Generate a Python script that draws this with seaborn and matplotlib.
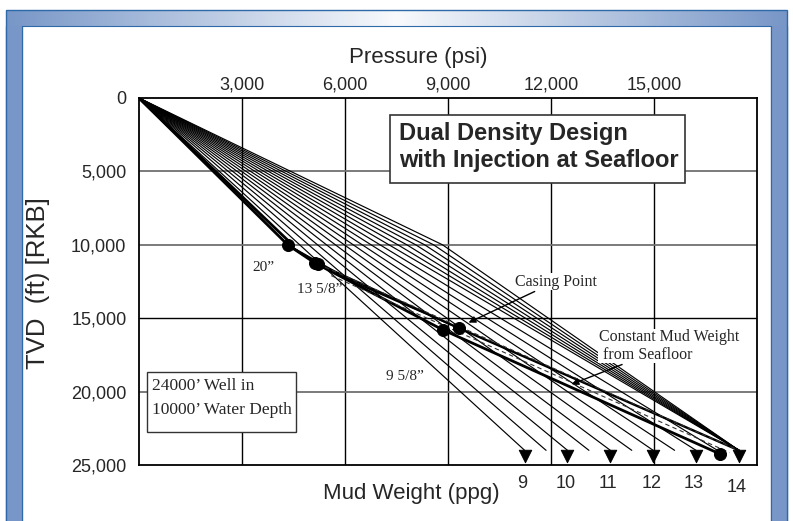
import numpy as np
import pandas as pd
import matplotlib
matplotlib.use("Agg")
import matplotlib.pyplot as plt
import seaborn as sns
from matplotlib.patches import Rectangle

sns.set_theme(style="white")
plt.rcParams['font.family'] = ['Liberation Sans', 'DejaVu Sans']

# ---------------- data ----------------
TD = 24000
mud_weights = [9, 9.5, 10, 10.5, 11, 11.5, 12, 12.5, 13, 13.5, 14]
riser_mw = [14.5, 15, 15.5, 16, 16.5, 17]      # heavier upper gradients, bent at seafloor
target_mw = 14
arrow_mw = [9, 10, 11, 12, 13, 14]
seawater_mw = 8.6
seafloor_depth = 10000

design_p = [0, 4330, 5130, 8855, 16924]
design_d = [0, 10000, 11250, 15800, 24250]
alt_p = [4330, 5210, 9321, 17470]
alt_d = [10000, 11310, 15680, 24000]
frac_p = [4330, 6300, 9321]
frac_d = [10000, 12600, 15680]
casing_p = [4330, 5130, 5210, 8855, 9321, 16924]
casing_d = [10000, 11250, 11310, 15800, 15680, 24250]
dash1_p = [5210, 17470]
dash1_d = [11310, 24000]
dash2_p = [5600, 17200]
dash2_d = [12100, 24150]

x_ticks = [3000, 6000, 9000, 12000, 15000]
y_ticks = [0, 5000, 10000, 15000, 20000, 25000]

W, H = 793, 521
fig = plt.figure(figsize=(W / 100, H / 100), dpi=100)

# ---------- decorative frame ----------
bg = fig.add_axes([0, 0, 1, 1])
bg.set_xlim(0, W)
bg.set_ylim(H, 0)
bg.axis('off')
blue = np.array([0.47, 0.59, 0.78])
grad = np.abs(np.linspace(-1, 1, 400))[None, :, None]
img = 1 - (1 - blue) * (0.05 + 0.95 * grad)
bg.imshow(np.repeat(img, 2, axis=0), extent=[6, 787, 26, 10], aspect='auto', zorder=1)
bg.add_patch(Rectangle((6, 26), 16, H, color=blue, zorder=1))
bg.add_patch(Rectangle((771, 26), 16, H, color=blue, zorder=1))
bg.add_patch(Rectangle((6, 10), 781, H, fill=False, ec='#2f6aa8', lw=1, zorder=2))
bg.add_patch(Rectangle((22, 26), 749, H, fill=False, ec='#2f6aa8', lw=0.8, zorder=2))

# ---------- main axes ----------
ax = fig.add_axes([139 / W, 1 - 465 / H, 618 / W, 367 / H])
ax.set_xlim(0, 18000)
ax.set_ylim(25000, 0)

for x in x_ticks:
    ax.axvline(x, color='black', lw=1, zorder=1)
for y in [5000, 10000, 20000]:
    ax.axhline(y, color='#707070', lw=1.3, zorder=1)
ax.axhline(15000, color='black', lw=1, zorder=1)

# constant mud weight lines from RKB
rows = []
for mw in mud_weights:
    for d in [0, TD]:
        rows.append({'line': mw, 'p': 0.052 * mw * d, 'd': d})
# heavier gradients to seafloor, converging on the target at TD
p_end = 0.052 * target_mw * TD
for mw in riser_mw:
    for p, d in [(0, 0), (0.052 * mw * seafloor_depth, seafloor_depth), (p_end, TD)]:
        rows.append({'line': mw, 'p': p, 'd': d})
fan = pd.DataFrame(rows)
sns.lineplot(data=fan, x='p', y='d', units='line', estimator=None, sort=False,
             color='black', lw=0.85, ax=ax, legend=False)

arr = pd.DataFrame({'p': [0.052 * m * TD for m in arrow_mw], 'd': [24420] * len(arrow_mw)})
sns.scatterplot(data=arr, x='p', y='d', marker='v', s=80, color='black',
                edgecolor='black', ax=ax, zorder=5, legend=False, clip_on=False)

# seawater to seafloor + design
sea = pd.DataFrame({'p': [0, 0.052 * seawater_mw * seafloor_depth], 'd': [0, seafloor_depth]})
sns.lineplot(data=sea, x='p', y='d', sort=False, color='black', lw=2, ax=ax)
sns.lineplot(data=pd.DataFrame({'p': design_p, 'd': design_d}), x='p', y='d',
             sort=False, color='black', lw=2, ax=ax)
sns.lineplot(data=pd.DataFrame({'p': alt_p, 'd': alt_d}), x='p', y='d',
             sort=False, color='black', lw=1.7, ax=ax)
sns.lineplot(data=pd.DataFrame({'p': frac_p, 'd': frac_d}), x='p', y='d',
             sort=False, color='black', lw=1.2, ax=ax)
for dp, dd in [(dash1_p, dash1_d), (dash2_p, dash2_d)]:
    sns.lineplot(data=pd.DataFrame({'p': dp, 'd': dd}), x='p', y='d',
                 sort=False, color='#333333', lw=0.8, ls=(0, (4, 3)), ax=ax)
sns.scatterplot(data=pd.DataFrame({'p': casing_p, 'd': casing_d}), x='p', y='d',
                s=75, color='black', edgecolor='black', ax=ax, zorder=6, legend=False)

# axes styling
ax.xaxis.tick_top()
ax.set_xticks(x_ticks)
ax.set_xticklabels([f'{v:,}' for v in x_ticks], fontsize=13)
ax.set_yticks(y_ticks)
ax.set_yticklabels([f'{v:,}' for v in y_ticks], fontsize=13)
ax.tick_params(axis='x', length=0, pad=3)
ax.tick_params(axis='y', length=0, pad=9)
ax.set_xlabel('')
ax.set_ylabel('')
for s in ax.spines.values():
    s.set_color('black')
    s.set_linewidth(1.3)
    s.set_zorder(7)

# axis titles
fig.text(418 / W, 1 - 58 / H, 'Pressure (psi)', fontsize=16, ha='center', va='center')
fig.text(38 / W, 1 - 283 / H, 'TVD  (ft) [RKB]', fontsize=18.5, ha='center', va='center', rotation=90)
fig.text(411 / W, 1 - 493 / H, 'Mud Weight (ppg)', fontsize=16, ha='center', va='center')
for m in arrow_mw:
    px = 139 + 0.052 * m * TD * 618 / 18000
    yy = 488 if m == 14 else 484
    fig.text((px - 2) / W, 1 - yy / H, str(m), fontsize=13, ha='center', va='center')

serif = ['Liberation Serif', 'DejaVu Serif']
# title box
x0, x1 = (390 - 139) / 618, (685 - 139) / 618
y0, y1 = (465 - 183) / 367, (465 - 115) / 367
ax.add_patch(Rectangle((x0, y0), x1 - x0, y1 - y0, transform=ax.transAxes,
                       fc='white', ec='#333333', lw=1.2, zorder=8))
ax.text((399 - 139) / 618, (465 - 147) / 367, 'Dual Density Design\nwith Injection at Seafloor',
        transform=ax.transAxes, fontsize=17, fontweight='bold', va='center', ha='left',
        linespacing=1.2, zorder=9)
# well box
bx0, bx1 = (147 - 139) / 618, (296 - 139) / 618
by0, by1 = (465 - 432) / 367, (465 - 372) / 367
ax.add_patch(Rectangle((bx0, by0), bx1 - bx0, by1 - by0, transform=ax.transAxes,
                       fc='white', ec='#333333', lw=1, zorder=8))
ax.text((152 - 139) / 618, (465 - 398) / 367, "24000\u2019 Well in\n10000\u2019 Water Depth",
        transform=ax.transAxes, fontsize=12.5, family=serif, va='center', ha='left',
        linespacing=1.75, zorder=9)

ax.text(3300, 11800, '20\u201d', fontsize=11, family=serif, zorder=8)
ax.text(4600, 13300, '13 5/8\u201d', fontsize=11, family=serif, zorder=8)
ax.text(7200, 19200, '9 5/8\u201d', fontsize=11, family=serif, zorder=8)
ax.annotate('Casing Point', xy=(9600, 15300), xytext=(10950, 12500), fontsize=11.5,
            family=serif, ha='left', va='center',
            bbox=dict(boxstyle='square,pad=0.05', fc='white', ec='none'),
            arrowprops=dict(arrowstyle='-|>', color='black', lw=1, mutation_scale=10,
                            shrinkA=2, shrinkB=0), zorder=8)
ax.annotate('Constant Mud Weight\n from Seafloor', xy=(12600, 19500), xytext=(13400, 16900),
            fontsize=11.5, family=serif, ha='left', va='center', linespacing=1.1,
            bbox=dict(boxstyle='square,pad=0.05', fc='white', ec='none'),
            arrowprops=dict(arrowstyle='-|>', color='black', lw=1, mutation_scale=10,
                            shrinkA=2, shrinkB=0), zorder=8)

fig.savefig('out.png', dpi=100)
